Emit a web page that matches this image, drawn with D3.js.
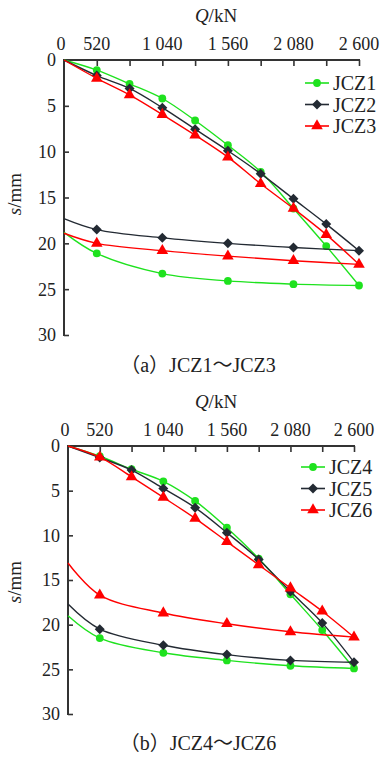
<!DOCTYPE html>
<html>
<head>
<meta charset="utf-8">
<script src="https://cdn.jsdelivr.net/npm/d3@7"></script>
<style>
  body { margin: 0; background: #fff; }
</style>
</head>
<body>
<div id="chart"></div>
<script>

// load steps (kN) - the axis is spaced by step, not linear
var loadSteps = [0, 520, 780, 1040, 1300, 1560, 1820, 2080, 2340, 2600];
var unloadSteps = [0, 520, 1040, 1560, 2080, 2600];
var xTickLabels = {0: "0", 520: "520", 1040: "1 040", 1560: "1 560", 2080: "2 080", 2600: "2 600"};
var yTicks = [0, 5, 10, 15, 20, 25, 30];

// settlement s (mm)
var jcz1Load   = [0, 1.1, 2.6, 4.2, 6.6, 9.3, 12.2, 16.2, 20.3, 24.6];
var jcz1Unload = [18.8, 21.1, 23.3, 24.1, 24.45, 24.6];
var jcz2Load   = [0, 1.7, 3.1, 5.2, 7.55, 9.9, 12.4, 15.15, 17.9, 20.8];
var jcz2Unload = [17.3, 18.5, 19.4, 20.0, 20.45, 20.8];
var jcz3Load   = [0, 2.0, 3.8, 5.95, 8.2, 10.6, 13.5, 16.2, 19.05, 22.3];
var jcz3Unload = [18.9, 20.0, 20.8, 21.4, 21.9, 22.3];

var jcz4Load   = [0, 1.15, 2.6, 3.95, 6.15, 9.15, 12.6, 16.6, 20.6, 24.9];
var jcz4Unload = [19.0, 21.5, 23.15, 24.0, 24.6, 24.9];
var jcz5Load   = [0, 1.3, 2.7, 4.75, 6.9, 9.7, 12.7, 16.3, 19.8, 24.2];
var jcz5Unload = [17.7, 20.5, 22.3, 23.35, 24.0, 24.2];
var jcz6Load   = [0, 1.25, 3.45, 5.75, 8.1, 10.7, 13.3, 15.9, 18.5, 21.4];
var jcz6Unload = [13.1, 16.7, 18.7, 19.9, 20.8, 21.4];

var green = "#1ee21e", dark = "#232a33", red = "#ff0000";
var serif = "Liberation Serif, Times New Roman, Tinos, serif";
var captionFont = "Liberation Serif, Noto Sans CJK SC, serif";

const svg = d3.select("#chart")
  .append("svg")
    .attr("width", 385)
    .attr("height", 758)
    .attr("font-family", serif);

function marker(sel, kind, color) {
  if (kind == "circle") {
    sel.append("circle").attr("r", 3.9).attr("fill", color);
  } else if (kind == "diamond") {
    sel.append("path")
      .attr("d", d3.symbol().type(d3.symbolSquare).size(50)())
      .attr("transform", "rotate(45)")
      .attr("fill", color);
  } else {
    sel.append("path")
      .attr("d", d3.symbol().type(d3.symbolTriangle).size(58)())
      .attr("fill", color);
  }
}

function draw_panel(p) {
  const x = d3.scalePoint()
    .domain(loadSteps)
    .range([p.x0, p.x1])
    .padding(0);
  const y = d3.scaleLinear()
    .domain([0, 30])
    .range([p.y0, p.y1]);

  const g = svg.append("g").attr("fill", "#222");

  // x axis on top, ticks pointing into the plot
  g.append("g")
    .attr("transform", `translate(0, ${p.y0})`)
    .call(d3.axisBottom(x).tickValues(loadSteps.slice(1)).tickSize(6).tickFormat(""))
    .call(a => a.select(".domain").remove())
    .call(a => a.selectAll("line").attr("stroke", "#333").attr("stroke-width", 1.6));
  g.append("line")
    .attr("x1", p.x0 - 1).attr("x2", p.x1 + 1)
    .attr("y1", p.y0).attr("y2", p.y0)
    .attr("stroke", "#333").attr("stroke-width", 2);

  g.selectAll(".xlab")
    .data(Object.keys(xTickLabels).map(Number))
    .join("text")
      .attr("x", d => x(d) + (d == 0 ? -3 : 0))
      .attr("y", p.y0 - 10)
      .attr("text-anchor", "middle")
      .attr("font-family", serif)
      .attr("font-size", 18)
      .text(d => xTickLabels[d]);

  // y axis on the left, ticks pointing right
  g.append("g")
    .attr("transform", `translate(${p.x0}, 0)`)
    .call(d3.axisRight(y).tickValues(yTicks.slice(1)).tickSize(5).tickFormat(""))
    .call(a => a.select(".domain").remove())
    .call(a => a.selectAll("line").attr("stroke", "#333").attr("stroke-width", 1.6));
  g.append("line")
    .attr("x1", p.x0).attr("x2", p.x0)
    .attr("y1", p.y0 - 1).attr("y2", p.y1 + 1)
    .attr("stroke", "#333").attr("stroke-width", 2);

  g.selectAll(".ylab")
    .data(yTicks)
    .join("text")
      .attr("x", p.x0 - 8)
      .attr("y", d => y(d))
      .attr("dy", "0.36em")
      .attr("text-anchor", "end")
      .attr("font-family", serif)
      .attr("font-size", 18)
      .text(d => d);

  // axis titles
  const qt = g.append("text")
    .attr("x", 216).attr("y", p.y0 - 38)
    .attr("text-anchor", "middle")
    .attr("font-family", serif)
    .attr("font-size", 19);
  qt.append("tspan").attr("font-style", "italic").text("Q");
  qt.append("tspan").text("/kN");

  const st = g.append("text")
    .attr("transform", `translate(21, ${p.sy}) rotate(-90)`)
    .attr("text-anchor", "middle")
    .attr("font-family", serif)
    .attr("font-size", 19);
  st.append("tspan").attr("font-style", "italic").text("s");
  st.append("tspan").text("/mm");

  const line = d3.line()
    .x(d => x(d[0]))
    .y(d => y(d[1]))
    .curve(d3.curveCatmullRom);

  p.series.forEach(function(s, i) {
    var load = loadSteps.map((q, k) => [q, s.load[k]]);
    var unload = unloadSteps.map((q, k) => [q, s.unload[k]]);

    g.append("path").datum(load)
      .attr("d", line).attr("fill", "none")
      .attr("stroke", s.color).attr("stroke-width", 1.4);
    g.append("path").datum(unload)
      .attr("d", line).attr("fill", "none")
      .attr("stroke", s.color).attr("stroke-width", 1.4);

    var pts = load.slice(1).concat(unload.slice(1, -1));
    g.append("g").selectAll("g")
      .data(pts)
      .join("g")
        .attr("transform", d => `translate(${x(d[0])},${y(d[1])})`)
        .each(function() { marker(d3.select(this), s.kind, s.color); });

    // legend
    var ly = p.ly + i * 21.5;
    g.append("line")
      .attr("x1", p.lx - 12).attr("x2", p.lx + 12)
      .attr("y1", ly).attr("y2", ly)
      .attr("stroke", s.color).attr("stroke-width", 1.6);
    marker(g.append("g").attr("transform", `translate(${p.lx},${ly})`), s.kind, s.color);
    g.append("text")
      .attr("x", p.lx + 16).attr("y", ly)
      .attr("dy", "0.35em")
      .attr("font-family", serif)
      .attr("font-size", 20)
      .text(s.name);
  });

  g.append("text")
    .attr("x", 198).attr("y", p.cy)
    .attr("text-anchor", "middle")
    .attr("font-family", captionFont)
    .attr("font-size", 20)
    .text(p.caption);
}

draw_panel({
  x0: 64, x1: 359, y0: 60, y1: 335, sy: 194, ly: 83, lx: 317, cy: 372,
  caption: "（a）JCZ1～JCZ3",
  series: [
    {name: "JCZ1", kind: "circle", color: green, load: jcz1Load, unload: jcz1Unload},
    {name: "JCZ2", kind: "diamond", color: dark, load: jcz2Load, unload: jcz2Unload},
    {name: "JCZ3", kind: "triangle", color: red, load: jcz3Load, unload: jcz3Unload}
  ]
});

draw_panel({
  x0: 68, x1: 354, y0: 446, y1: 714, sy: 582, ly: 467, lx: 313, cy: 750,
  caption: "（b）JCZ4～JCZ6",
  series: [
    {name: "JCZ4", kind: "circle", color: green, load: jcz4Load, unload: jcz4Unload},
    {name: "JCZ5", kind: "diamond", color: dark, load: jcz5Load, unload: jcz5Unload},
    {name: "JCZ6", kind: "triangle", color: red, load: jcz6Load, unload: jcz6Unload}
  ]
});

</script>
</body>
</html>
